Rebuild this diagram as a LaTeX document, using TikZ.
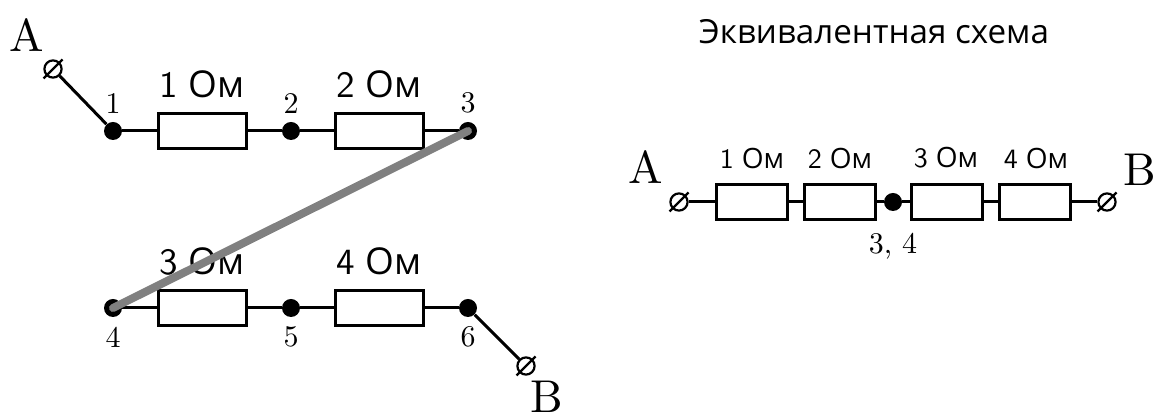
\documentclass[tikz,border=0pt]{standalone}
\usepackage{fontspec}
\usepackage{graphicx}
\newfontfamily\labelfont{Open Sans}
\newcommand{\bigohm}[1]{\scalebox{1.85}{\sffamily #1}\hspace{5.5pt}{\labelfont\fontsize{18.5}{20}\selectfont Ом}}
\newcommand{\smallohm}[1]{\scalebox{1.4}{\sffamily #1}\hspace{4pt}{\labelfont\fontsize{14}{16}\selectfont Ом}}
\newcommand{\letterbox}[1]{\scalebox{2.3}{#1}}
\newcommand{\numbox}[1]{\scalebox{1.5}{#1}}
\tikzset{
  wire/.style={line width=1.5pt},
  bigres/.style={draw,line width=1.5pt,fill=white,minimum width=44pt,minimum height=17.5pt,inner sep=0pt},
  smallres/.style={draw,line width=1.5pt,fill=white,minimum width=35.5pt,minimum height=17.5pt,inner sep=0pt},
  dot/.style={circle,fill=black,minimum size=9pt,inner sep=0pt},
  term/.style={circle,draw,line width=1.1pt,fill=white,minimum size=8.6pt,inner sep=0pt},
  slash/.style={line width=1.1pt},
  shorted/.style={line width=4pt,draw=black!50,line cap=round},
  bigsans/.style={inner sep=0pt},
  smallsans/.style={inner sep=0pt},
  title/.style={font=\labelfont\fontsize{16.6}{20}\selectfont,inner sep=0pt},
  letter/.style={inner sep=0pt},
  num/.style={inner sep=0pt},
}
\begin{document}
\begin{tikzpicture}[x=0.5pt,y=-0.5pt]
\useasboundingbox (0,0) rectangle (1158,415);
% left circuit
\node[term] (ta) at (53,69) {};
\node[term] (tb) at (526,366) {};
\node[dot] (d1) at (113,131) {};
\node[dot] (d2) at (291,131) {};
\node[dot] (d3) at (468,131) {};
\node[dot] (d4) at (113,308) {};
\node[dot] (d5) at (291,308) {};
\node[dot] (d6) at (468,308) {};
\node[bigres] (r1) at (202,131) {};
\node[bigres] (r2) at (379,131) {};
\node[bigres] (r3) at (202,308) {};
\node[bigres] (r4) at (379,308) {};
\draw[wire] (ta) -- (d1);
\draw[wire] (d1) -- (r1);
\draw[wire] (r1) -- (d2);
\draw[wire] (d2) -- (r2);
\draw[wire] (r2) -- (d3);
\draw[wire] (d4) -- (r3);
\draw[wire] (r3) -- (d5);
\draw[wire] (d5) -- (r4);
\draw[wire] (r4) -- (d6);
\draw[wire] (d6) -- (tb);
\draw[slash] ([shift={(-9.5,9.5)}]ta.center) -- ([shift={(9.5,-9.5)}]ta.center);
\draw[slash] ([shift={(-9.5,9.5)}]tb.center) -- ([shift={(9.5,-9.5)}]tb.center);
\node[letter] (la) at (27,35) {\letterbox{A}};
\node[letter] (lb) at (547,396.5) {\letterbox{B}};
\node[num] (n1) at (113,104) {\numbox{1}};
\node[num] (n2) at (291,104) {\numbox{2}};
\node[num] (n3) at (468,103) {\numbox{3}};
\node[num] (n4) at (113,337) {\numbox{4}};
\node[num] (n5) at (291,337) {\numbox{5}};
\node[num] (n6) at (468,337) {\numbox{6}};
\node[bigsans] (v1) at (202,84) {\bigohm{1}};
\node[bigsans] (v2) at (379,84) {\bigohm{2}};
\node[bigsans] (v3) at (202,261) {\bigohm{3}};
\node[bigsans] (v4) at (379,261) {\bigohm{4}};
\draw[shorted] (d3.center) -- (d4.center);
% equivalent circuit
\node[title] (head) at (874,32) {Эквивалентная схема};
\node[term] (ea) at (679,202) {};
\node[term] (eb) at (1107,202) {};
\node[dot] (em) at (893,202) {};
\node[smallres] (s1) at (751.5,202) {};
\node[smallres] (s2) at (839.5,202) {};
\node[smallres] (s3) at (946.5,202) {};
\node[smallres] (s4) at (1034.5,202) {};
\draw[wire] (ea) -- (s1);
\draw[wire] (s1) -- (s2);
\draw[wire] (s2) -- (em);
\draw[wire] (em) -- (s3);
\draw[wire] (s3) -- (s4);
\draw[wire] (s4) -- (eb);
\draw[slash] ([shift={(-9.5,9.5)}]ea.center) -- ([shift={(9.5,-9.5)}]ea.center);
\draw[slash] ([shift={(-9.5,9.5)}]eb.center) -- ([shift={(9.5,-9.5)}]eb.center);
\node[letter] (ela) at (646,167) {\letterbox{A}};
\node[letter] (elb) at (1140,170) {\letterbox{B}};
\node[smallsans] (w1) at (752,158) {\smallohm{1}};
\node[smallsans] (w2) at (840,158) {\smallohm{2}};
\node[smallsans] (w3) at (946,158) {\smallohm{3}};
\node[smallsans] (w4) at (1036,158) {\smallohm{4}};
\node[num] (em34) at (893,246) {\numbox{3, 4}};
\end{tikzpicture}
\end{document}
